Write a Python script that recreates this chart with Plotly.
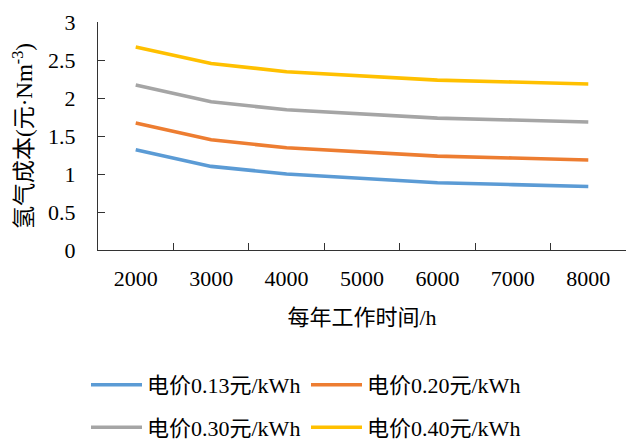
import plotly.graph_objects as go

hours = ["2000", "3000", "4000", "5000", "6000", "7000", "8000"]
price_013 = [1.32, 1.10, 1.00, 0.94, 0.885, 0.86, 0.835]
price_020 = [1.67, 1.45, 1.345, 1.285, 1.235, 1.21, 1.185]
price_030 = [2.17, 1.95, 1.845, 1.785, 1.735, 1.71, 1.685]
price_040 = [2.67, 2.455, 2.345, 2.285, 2.235, 2.21, 2.185]

names = ["电价0.13元/kWh", "电价0.20元/kWh", "电价0.30元/kWh", "电价0.40元/kWh"]
colors = ["#5B9BD5", "#ED7D31", "#A5A5A5", "#FFC000"]
series = [price_013, price_020, price_030, price_040]
legend_ids = ["legend", "legend2", "legend3", "legend4"]
# legend anchor positions (container pixels: left x, middle y)
legend_pos = [(86, 385), (306, 385), (86, 427.5), (306, 427.5)]

LATIN = "Liberation Serif"
MIXED = "Liberation Serif, Noto Sans CJK SC"
FS = 22
AXC = "#333333"

fig = go.Figure()
for name, col, ys, lg in zip(names, colors, series, legend_ids):
    fig.add_trace(go.Scatter(
        x=hours, y=ys, name=name, mode="lines",
        line=dict(color=col, width=3.6), legend=lg,
    ))

legend_layouts = {}
for lg, (px, py) in zip(legend_ids, legend_pos):
    legend_layouts[lg] = dict(
        orientation="h", xref="container", yref="container",
        x=px / 636, y=1 - py / 441, xanchor="left", yanchor="middle",
        font=dict(family=MIXED, size=FS, color="#000"),
        itemwidth=51,
        bgcolor="rgba(0,0,0,0)", borderwidth=0,
    )

fig.update_layout(
    width=636, height=441,
    margin=dict(l=98, r=10, t=18, b=191),
    paper_bgcolor="white", plot_bgcolor="white",
    font=dict(family=MIXED, size=FS, color="#000"),
    showlegend=True,
    **legend_layouts,
    xaxis=dict(
        type="category", range=[-0.5, 6.5], tickson="boundaries",
        ticks="inside", ticklen=7, tickcolor=AXC, tickwidth=1.3,
        showline=True, linecolor=AXC, linewidth=1.3,
        showgrid=False, zeroline=False,
        ticklabelstandoff=8,
        tickfont=dict(family=LATIN, size=FS, color="#000"),
        title=dict(text="每年工作时间/h", font=dict(family=MIXED, size=FS, color="#000"), standoff=20),
    ),
    yaxis=dict(
        range=[0, 3], dtick=0.5, tick0=0,
        ticks="inside", ticklen=7, tickcolor=AXC, tickwidth=1.3,
        showline=True, linecolor=AXC, linewidth=1.3,
        showgrid=False, zeroline=False,
        ticklabelstandoff=17,
        tickfont=dict(family=LATIN, size=FS, color="#000"),
        title=dict(text="氢气成本(元·Nm<sup>-3</sup>)", font=dict(family=MIXED, size=23, color="#000"), standoff=8),
    ),
)

fig.write_html("out.html")
